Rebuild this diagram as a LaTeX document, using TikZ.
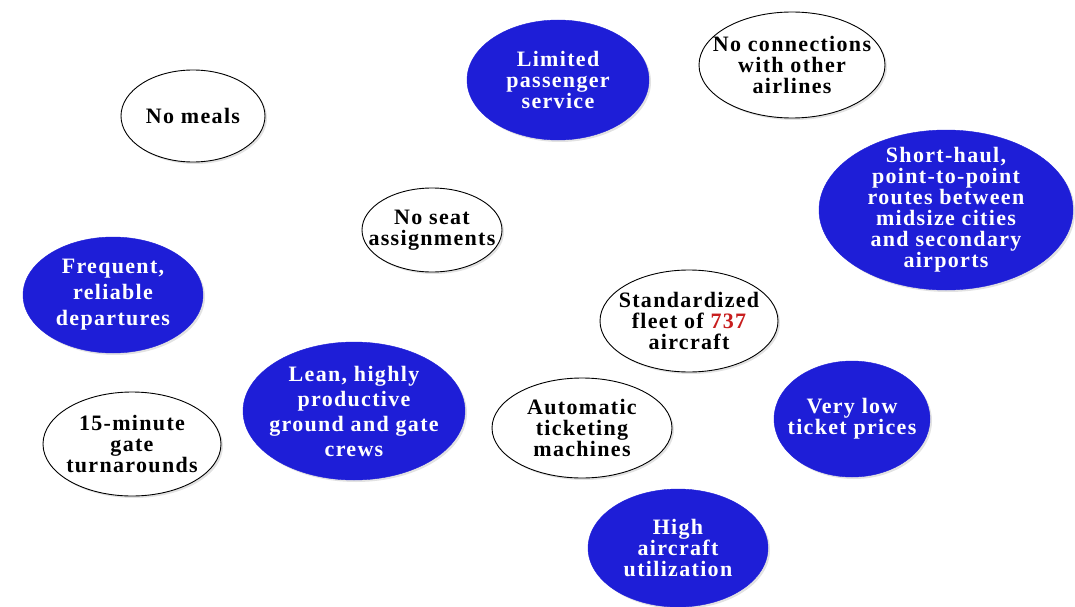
\documentclass[tikz,border=0pt]{standalone}
\usepackage{fontspec}
\setmainfont{Liberation Serif}[LetterSpace=6]
\usetikzlibrary{shapes.geometric,shadows}
\definecolor{bubblue}{RGB}{30,30,215}
\definecolor{numred}{RGB}{200,30,30}
\tikzset{
  bub/.style={ellipse,inner xsep=-30pt,inner ysep=-15pt,align=center,font=\bfseries\fontsize{22}{21}\selectfont,
    drop shadow={shadow xshift=2pt,shadow yshift=-2pt,fill=gray!45}},
  bluebub/.style={bub,fill=bubblue,draw=bubblue,text=white},
  whitebub/.style={bub,fill=white,draw=black,line width=0.9pt,text=black},
  widelines/.style={font=\bfseries\fontsize{22}{#1}\selectfont},
}
\begin{document}
\begin{tikzpicture}[x=1pt,y=-1pt]
		\useasboundingbox (0,0) rectangle (1075,607);
		\node[bluebub,minimum width=182,minimum height=120] (limited) at (558,80) {Limited\\passenger\\service};
		\node[whitebub,minimum width=186,minimum height=106] (noconn) at (792,65) {No connections\\with other\\airlines};
		\node[whitebub,minimum width=144,minimum height=92] (nomeals) at (193,116) {No meals};
		\node[whitebub,minimum width=140,minimum height=84] (noseat) at (432,230) {No seat\\assignments};
		\node[bluebub,minimum width=254,minimum height=160] (shorthaul) at (946,210) {Short-haul,\\point-to-point\\routes between\\midsize cities\\and secondary\\airports};
		\node[bluebub,widelines=26,minimum width=180,minimum height=116] (frequent) at (113,295) {Frequent,\\reliable\\departures};
		\node[whitebub,minimum width=178,minimum height=102] (fleet) at (689,321) {Standardized\\fleet of \textcolor{numred}{737}\\aircraft};
		\node[bluebub,widelines=25,minimum width=222,minimum height=138] (lean) at (354,411) {Lean, highly\\productive\\ground and gate\\crews};
		\node[whitebub,minimum width=178,minimum height=104] (gate) at (132,444) {15-minute\\gate\\turnarounds};
		\node[whitebub,minimum width=180,minimum height=100] (ticketing) at (582,428) {Automatic\\ticketing\\machines};
		\node[bluebub,minimum width=156,minimum height=116] (lowprice) at (852,419) {Very low\\ticket prices};
		\node[bluebub,minimum width=180,minimum height=118] (utilization) at (678,548) {High\\aircraft\\utilization};
\end{tikzpicture}
\end{document}
